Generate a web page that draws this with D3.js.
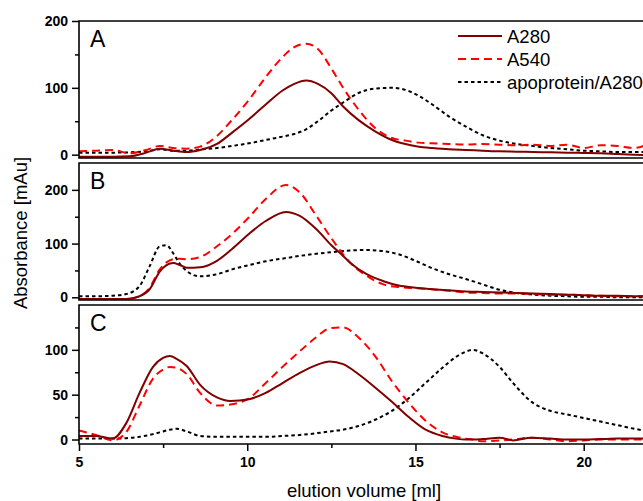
<!DOCTYPE html>
<html>
<head>
<meta charset="utf-8">
<script src="https://cdn.jsdelivr.net/npm/d3@7"></script>
<style>
html,body{margin:0;padding:0;background:#fff;}
svg{display:block;}
text{font-family:"Liberation Sans",Arial,sans-serif;}
</style>
</head>
<body>
<svg id="chart" width="643" height="501"></svg>
<script>
// ---------- data ----------
const seriesNames = ["A280", "A540", "apoprotein/A280"];
const panelLabels = ["A", "B", "C"];

const xA = [5,5.5,6,6.5,7,7.4,7.8,8.2,8.6,9.1,9.55,10.05,10.55,11.05,11.4,11.75,12.1,12.5,12.85,13.3,13.8,14.3,14.7,15.1,15.5,16,16.5,17,17.5,18,18.5,19,19.5,20,20.5,21,21.5,22];
const a280A = [-3,-3,-3,-2.5,3,9,6,4,7,16,33,53,75,96,106,111,106,92,72,52,35,22,16,12,10,8,7,6,5,4.5,4,3.5,3,2.5,2,1,0,-1];
const a540A = [5,6,7,2,7,13,10,9,12,28,52,82,116,146,161,166,158,129,100,68,40,25,21,18,17,16,15,16,15,14,15,13,15,10,14,13,10,18];
const apoA  = [3,3,3,3.5,5,8,6,6,8,10,13,17,22,27,31,38,50,66,78,92,99,100,97,88,75,57,42,29,21,16,13,10,8,6,5,4,4,4];

const xB = [5,5.5,6,6.4,6.8,7.1,7.4,7.6,7.8,8.0,8.2,8.6,9.1,9.55,10.05,10.55,11.15,11.55,12.05,12.5,12.85,13.05,13.55,14.05,14.5,15,15.5,16,16.5,17,17.5,18,18.5,19,19.5,20,20.5,21,21.5,22];
const a280B = [-3,-3,-3,-3,2,15,48,60,64,60,55,56,68,90,118,142,159,152,127,97,77,65,43,30,22,18,15,13,11,10,9,8,7,6,5,4,3,3,2,2];
const a540B = [-3,-3,-3,-3,2,18,52,65,71,72,71,75,95,118,149,183,209,196,152,110,80,65,40,24,19,17,15,12,9,8,7,7,6,5,5,4,3,2,2,2];
const apoB  = [2,2,3,6,21,58,95,97,82,62,49,39,43,52,60,67,73,77,81,84,86,87,88,86,80,68,54,43,34,24,14,8,5,3,2,1,1,0,0,0];

const xC = [5,5.5,6,6.4,6.8,7.2,7.5,7.7,7.9,8.2,8.6,9.1,9.5,10.05,10.55,11.05,11.55,12.05,12.45,12.85,13.3,13.8,14.3,14.8,15.3,15.8,16.2,16.5,16.7,17,17.5,17.9,18.45,19,19.5,20,20.5,21,21.5,22];
const a280C = [4,4,1,18,52,81,91,93,90,82,61,47,43,45,52,63,74,83,87,84,73,58,42,25,11,4,1,0,0,0.5,2,-1,2,1,0,0,0.5,1,1,1];
const a540C = [10,5,-1,8,38,68,78,81,80,73,52,38,39,46,63,81,98,114,124,125,114,93,65,41,21,8,3,1,0,-2,-1,0,2,0,-2,-1,0,0,0,0];
const apoC  = [1,1,1,1.5,3,6,9,11,12,9,4,3,3,3,3,4,5,7,9,11,15,22,32,46,63,80,92,98,100,96,81,63,42,32,28,24,20,16,12,9];

const xTicksMajor = [5,10,15,20];
const xTicksMinor = [7.5,12.5,17.5];
const yTicksMajorA = [0,100,200], yTicksMinorA = [50,150];
const yTicksMajorB = [0,100,200], yTicksMinorB = [50,150];
const yTicksMajorC = [0,50,100], yTicksMinorC = [25,75,125];

const xTitle = "elution volume [ml]";
const yTitle = "Absorbance [mAu]";

// ---------- layout ----------
const svg = d3.select("#chart");
const left = 79, right = 651;
const x = d3.scaleLinear().domain([5,22]).range([left, right]);

const panels = [
  {label:"A", top:21, bottom:158, domain:[-5,200], major:yTicksMajorA, minor:yTicksMinorA, xs:xA, ys:[a280A,a540A,apoA]},
  {label:"B", top:163, bottom:300, domain:[-5,250], major:yTicksMajorB, minor:yTicksMinorB, xs:xB, ys:[a280B,a540B,apoB]},
  {label:"C", top:305, bottom:444, domain:[-5,150], major:yTicksMajorC, minor:yTicksMinorC, xs:xC, ys:[a280C,a540C,apoC]}
];

const styles = [
  {color:"#800000", width:2, dash:null},
  {color:"#ff0000", width:2, dash:"8,5"},
  {color:"#000000", width:2, dash:"3.5,3"}
];

panels.forEach((p, i) => {
  const y = d3.scaleLinear().domain(p.domain).range([p.bottom, p.top]);
  const g = svg.append("g");

  const clipId = "clip" + i;
  svg.append("clipPath").attr("id", clipId)
    .append("rect").attr("x", left).attr("y", p.top).attr("width", right - left).attr("height", p.bottom - p.top);

  // series
  const line = d3.line().x(d => x(d[0])).y(d => y(d[1])).curve(d3.curveMonotoneX);
  [2,1,0].forEach(si => {
    const data = p.xs.map((xv, k) => [xv, p.ys[si][k]]);
    const st = styles[si];
    g.append("path").datum(data)
      .attr("clip-path", `url(#${clipId})`)
      .attr("fill", "none")
      .attr("stroke", st.color)
      .attr("stroke-width", st.width)
      .attr("stroke-dasharray", st.dash)
      .attr("d", line);
  });

  // y axes
  const yMaj = d3.axisLeft(y).tickValues(p.major).tickSize(7).tickPadding(4);
  const yMin = d3.axisLeft(y).tickValues(p.minor).tickSize(4).tickFormat("");
  const ga = g.append("g").attr("transform", `translate(${left},0)`).call(yMaj);
  const gm = g.append("g").attr("transform", `translate(${left},0)`).call(yMin);
  [ga, gm].forEach(a => {
    a.select(".domain").remove();
    a.selectAll("line").attr("stroke", "#000").attr("stroke-width", 1.5);
  });
  ga.selectAll("text").attr("font-size", 14).attr("font-weight", "bold")
    .attr("font-family", "'Liberation Sans', Arial, sans-serif").attr("fill", "#000");

  // frame
  g.append("path")
    .attr("d", `M${right},${p.top}H${left}V${p.bottom}H${right}`)
    .attr("fill", "none").attr("stroke", "#000").attr("stroke-width", 1.6);

  // panel label
  g.append("text").attr("x", 90).attr("y", p.top + 26)
    .attr("font-size", 23).attr("fill", "#000").text(p.label);

  // x axis on last panel
  if (i === panels.length - 1) {
    const xMaj = d3.axisBottom(x).tickValues(xTicksMajor).tickSize(7).tickPadding(6);
    const xMin = d3.axisBottom(x).tickValues(xTicksMinor).tickSize(4).tickFormat("");
    const xa = svg.append("g").attr("transform", `translate(0,${p.bottom})`).call(xMaj);
    const xm = svg.append("g").attr("transform", `translate(0,${p.bottom})`).call(xMin);
    [xa, xm].forEach(a => {
      a.select(".domain").remove();
      a.selectAll("line").attr("stroke", "#000").attr("stroke-width", 1.5);
    });
    xa.selectAll("text").attr("font-size", 14).attr("font-weight", "bold")
      .attr("font-family", "'Liberation Sans', Arial, sans-serif").attr("fill", "#000");
  }
});

// axis titles
svg.append("text").attr("x", 364).attr("y", 497).attr("text-anchor", "middle")
  .attr("font-size", 18.5).attr("fill", "#000").text(xTitle);
svg.append("text").attr("transform", "translate(27,233) rotate(-90)").attr("text-anchor", "middle")
  .attr("font-size", 18.5).attr("fill", "#000").text(yTitle);

// legend
const legY = [36, 59, 82];
seriesNames.forEach((name, i) => {
  const st = styles[i];
  svg.append("line").attr("x1", 458).attr("x2", 502).attr("y1", legY[i]).attr("y2", legY[i])
    .attr("stroke", st.color).attr("stroke-width", st.width).attr("stroke-dasharray", st.dash);
  svg.append("text").attr("x", 507).attr("y", legY[i] + 6.5)
    .attr("font-size", 18.5).attr("fill", "#000").text(name);
});
</script>
</body>
</html>
